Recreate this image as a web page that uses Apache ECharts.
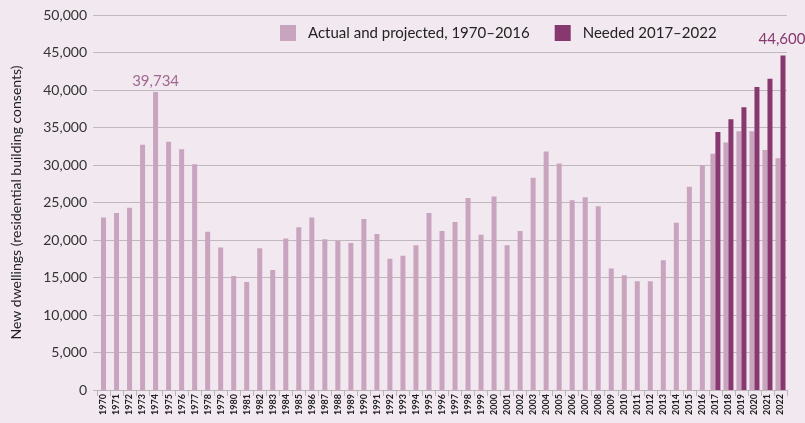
<!DOCTYPE html>
<html><head><meta charset="utf-8">
<script src="https://cdn.jsdelivr.net/npm/echarts@6/dist/echarts.min.js"></script>
<style>html,body{margin:0;padding:0;background:#f2e8ef;}#c{width:805px;height:423px;}</style>
</head><body><div id="c"></div>
<script>
const years = [];
for (let y = 1970; y <= 2022; y++) years.push(String(y));
const actual = [23000,23600,24300,32700,39734,33100,32100,30100,21100,19000,15200,14400,18900,16000,20200,21700,23000,20100,19900,19600,22800,20800,17500,17900,19300,23600,21200,22400,25600,20700,25800,19300,21200,28300,31800,30200,25300,25700,24500,16200,15300,14500,14500,17300,22300,27100,30000];
const projected = [31500,33000,34500,34500,32000,30900];
const needed = [34400,36100,37700,40400,41500,44600];
const yTicks = [0,5000,10000,15000,20000,25000,30000,35000,40000,45000,50000];

const nPre = actual.length;
const preData = years.map((y,i)=> i<nPre ? actual[i] : null);
const projData = years.map((y,i)=> i>=nPre ? projected[i-nPre] : null);
const needData = years.map((y,i)=> i>=nPre ? needed[i-nPre] : null);
const light = '#c9a4be', dark = '#86386f';
const font = 'Lato';

const chart = echarts.init(document.getElementById('c'));
chart.setOption({
  backgroundColor:'#f2e8ef',
  animation:false,
  textStyle:{fontFamily:font},
  grid:{left:97,right:18,top:15,bottom:33},
  legend:{
    top:25, left:280, itemWidth:16, itemHeight:16, itemGap:25, padding:0,
    textStyle:{fontFamily:font,fontSize:15,color:'#222',padding:[0,0,0,7]},
    data:[{name:'Actual and projected, 1970–2016',icon:'rect'},{name:'Needed 2017–2022',icon:'rect'}]
  },
  xAxis:[{
    type:'category', data:years, boundaryGap:true,
    axisLine:{lineStyle:{color:'#bdb3ba'}},
    axisTick:{show:true,length:6,lineStyle:{color:'#bdb3ba'}},
    axisLabel:{rotate:90,fontSize:9,color:'#222',margin:4,fontFamily:font,fontWeight:'bold'}
  },{
    type:'category', data:years, show:false
  }],
  yAxis:{
    type:'value', min:0, max:50000, interval:5000,
    axisLine:{show:false},
    axisTick:{show:true,length:4,lineStyle:{color:'#c0b8be'}},
    splitLine:{lineStyle:{color:'#c0b8be',width:1.2}},
    axisLabel:{fontSize:14,color:'#333',margin:10,fontFamily:font,
      formatter:v=>v.toLocaleString('en-US')},
    name:'New dwellings (residential building consents)',
    nameLocation:'middle', nameGap:74, nameRotate:90,
    nameTextStyle:{fontSize:14,color:'#222',fontFamily:font}
  },
  series:[{
    name:'Actual and projected, 1970–2016', type:'bar', xAxisIndex:1,
    data:preData, barWidth:5, itemStyle:{color:light},
    label:{show:true,position:'top',distance:3,color:'#a06890',fontSize:15,fontFamily:font,
      formatter:p=> p.dataIndex===4 ? Number(p.value).toLocaleString('en-US') : ''}
  },{
    name:'Actual and projected, 1970–2016', type:'bar', xAxisIndex:0,
    data:projData, barWidth:5, barGap:'0%', itemStyle:{color:light}
  },{
    name:'Needed 2017–2022', type:'bar', xAxisIndex:0,
    data:needData, barWidth:5, barGap:'0%', itemStyle:{color:dark},
    label:{show:true,position:'top',distance:9,color:'#86386f',fontSize:15,fontFamily:font,
      offset:[-1,0],
      formatter:p=> p.dataIndex===years.length-1 ? Number(p.value).toLocaleString('en-US') : ''}
  }]
});
</script></body></html>
